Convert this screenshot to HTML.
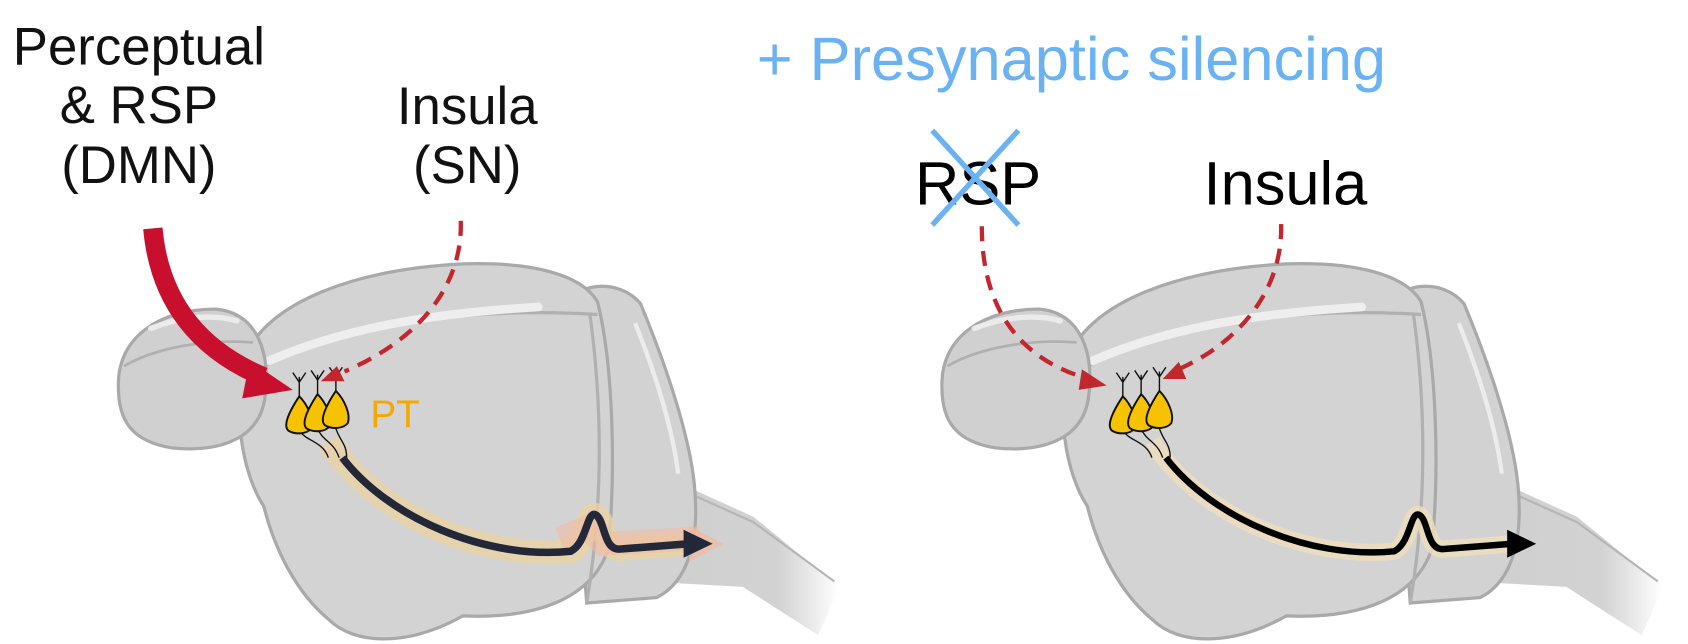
<!DOCTYPE html>
<html><head><meta charset="utf-8"><style>
html,body{margin:0;padding:0;background:#fff;}
svg{display:block;}
text{font-family:"Liberation Sans",sans-serif;}
</style></head><body>
<svg width="1688" height="644" viewBox="0 0 1568 598" xmlns="http://www.w3.org/2000/svg">
<defs>
<linearGradient id="bs" x1="0" x2="1" y1="0" y2="0">
<stop offset="0" stop-color="#cfcfcf"/><stop offset="0.7" stop-color="#d2d2d2"/><stop offset="1" stop-color="#fff"/>
</linearGradient>
<g id="brain">
 <path d="M590 430 L700 480 L780 545 L760 590 L690 545 L600 540 Z" fill="url(#bs)" stroke="none"/>
 <path d="M600 440 L700 485 L775 540" fill="none" stroke="#b5b5b5" stroke-width="2"/>
 <path d="M525 285 C535 262,575 258,595 282 C615 330,640 400,645 450 C650 500,640 540,610 555 L545 560 Z" fill="#d2d2d2" stroke="#a9a9a9" stroke-width="3"/>
 <path d="M590 300 C610 350,625 400,630 440" fill="none" stroke="#ececec" stroke-width="4"/>
 <path d="M228 330 C250 280,330 250,430 245 C495 243,540 255,555 280 C570 340,572 440,565 510 C550 555,500 575,430 572 C380 600,330 600,305 575 C275 550,255 510,245 470 C225 440,215 380,228 330 Z" fill="#d3d3d3" stroke="#a9a9a9" stroke-width="3"/>
 <path d="M235 345 C320 300,440 285,555 292" fill="none" stroke="#b0b0b0" stroke-width="3"/>
 <path d="M250 335 C330 300,420 290,500 285" fill="none" stroke="#eeeeee" stroke-width="8" stroke-linecap="round"/>
 <path d="M548 292 C560 380,560 470,545 560" fill="none" stroke="#b0b0b0" stroke-width="3"/>
 <path d="M110 360 C108 312,150 287,200 287 C240 290,252 330,246 370 C240 410,200 420,160 416 C122 410,110 390,110 360 Z" fill="#d0d0d0" stroke="#a9a9a9" stroke-width="3"/>
 <path d="M115 340 C150 320,200 315,235 318" fill="none" stroke="#b0b0b0" stroke-width="2.5"/>
 <path d="M140 305 C170 293,200 292,220 298" fill="none" stroke="#ebebeb" stroke-width="5" stroke-linecap="round"/>
</g>
<g id="neu">
 <g stroke="#111" stroke-width="1.3" fill="none">
  <path d="M278 375 L278 350 M278 355 L272 346 M278 355 L284 346"/>
  <path d="M295 375 L295 348 M295 353 L289 344 M295 353 L301 344"/>
  <path d="M312 375 L312 345 M312 350 L306 341 M312 350 L318 341"/>
  <path d="M278 400 C285 410,300 410,305 425 M295 398 C300 410,310 410,315 425 M312 398 C316 410,322 412,322 425"/>
 </g>
 <g fill="#f7c300" stroke="#111" stroke-width="1.8">
  <path d="M278 368 C270 380,262 395,268 400 C275 404,285 403,289 398 C292 390,286 376,278 368 Z"/>
  <path d="M295 366 C287 378,279 393,285 398 C292 402,302 401,306 396 C309 388,303 374,295 366 Z"/>
  <path d="M312 363 C304 375,296 390,302 395 C309 399,319 398,323 393 C326 385,320 371,312 363 Z"/>
 </g>
</g>
</defs>

<!-- left panel -->
<use href="#brain"/>
<path d="M305 410 C350 480,450 520,530 512 C545 505,545 475,553 478 C562 482,560 510,575 510 L640 505" fill="none" stroke="#e9d3a4" stroke-width="22" opacity="0.8"/>
<path d="M520 500 L545 490 L560 505 L650 500" fill="none" stroke="#f2b9a0" stroke-width="22" opacity="0.55"/>
<path d="M640 488 L672 505 L640 522 Z" fill="#f2b9a0" opacity="0.7"/>
<use href="#neu"/>
<path d="M318 425 C360 480,450 520,530 512 C545 505,545 475,553 478 C562 482,560 510,575 510 L640 505" fill="none" stroke="#232838" stroke-width="7"/>
<path d="M635 492 L662 505 L635 518 Z" fill="#232838"/>
<text x="344" y="397" font-size="36" fill="#f5a800">PT</text>
<path d="M142 212 C148 280,185 325,245 350" fill="none" stroke="#c8102e" stroke-width="18"/>
<path d="M232 335 L272 362 L225 370 Z" fill="#c8102e"/>
<path d="M428 205 C430 265,390 315,320 345" fill="none" stroke="#c1272d" stroke-width="4" stroke-dasharray="14 9"/>
<path d="M313 340 L298 354 L320 354 Z" fill="#c1272d"/>
<g font-size="49" fill="#111" text-anchor="middle">
<text x="129" y="60">Perceptual</text>
<text x="129" y="114">&amp; RSP</text>
<text x="129" y="170">(DMN)</text>
<text x="434" y="115">Insula</text>
<text x="434" y="170">(SN)</text>
</g>

<!-- right panel -->
<g transform="translate(765,0)">
<use href="#brain"/>
<path d="M305 410 C350 480,450 520,530 512 C545 505,545 475,553 478 C562 482,560 510,575 510 L640 505" fill="none" stroke="#f0dfbd" stroke-width="16" opacity="0.8"/>
<use href="#neu"/>
<path d="M318 425 C360 480,450 520,530 512 C545 505,545 475,553 478 C562 482,560 510,575 510 L640 505" fill="none" stroke="#000" stroke-width="6"/>
<path d="M635 492 L662 505 L635 518 Z" fill="#000"/>
</g>
<path d="M912 210 C912 290,950 335,1012 352" fill="none" stroke="#c1272d" stroke-width="4" stroke-dasharray="14 9"/>
<path d="M1005 343 L1028 358 L1002 362 Z" fill="#c1272d"/>
<path d="M1190 208 C1192 270,1150 320,1090 345" fill="none" stroke="#c1272d" stroke-width="4" stroke-dasharray="14 9"/>
<path d="M1095 336 L1080 352 L1102 352 Z" fill="#c1272d"/>
<text x="703" y="74" font-size="57" fill="#6ab2f2">+ Presynaptic silencing</text>
<text x="850" y="190" font-size="57" fill="#000">RSP</text>
<text x="1118" y="190" font-size="57" fill="#000">Insula</text>
<path d="M866 121 L946 209 M946 121 L866 209" stroke="#6ab2f2" stroke-width="5"/>
</svg>
</body></html>
